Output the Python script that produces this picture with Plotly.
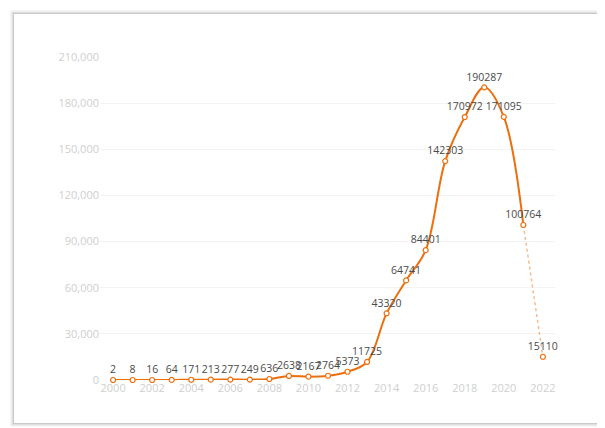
import plotly.graph_objects as go

years = list(range(2000, 2023))
values = [2, 8, 16, 64, 171, 213, 277, 249, 636, 2638, 2167, 2764, 5373, 11725,
          43320, 64741, 84401, 142303, 170972, 190287, 171095, 100764, 15110]
y_ticks = [0, 30000, 60000, 90000, 120000, 150000, 180000, 210000]
y_tick_labels = ["0", "30,000", "60,000", "90,000", "120,000", "150,000", "180,000", "210,000"]
x_ticks = list(range(2000, 2023, 2))

ORANGE = "#EC6F0E"
LIGHT = "rgba(246,178,130,0.9)"
FONT = "Open Sans"

# figure sits at (8,8) in the page because of the default body margin
W, H = 597, 420
L, T = 92, 49
PW, PH = 455, 323


def px(fx):
    return (fx - L) / PW


def py(fy):
    return (T + PH - fy) / PH


fig = go.Figure()

fig.add_trace(go.Scatter(
    x=years[-2:], y=values[-2:], mode="lines",
    line=dict(color=LIGHT, width=1.5, dash="dot", shape="spline", smoothing=1),
    hoverinfo="skip", showlegend=False,
))

fig.add_trace(go.Scatter(
    x=years[:-1], y=values[:-1], mode="lines",
    line=dict(color=ORANGE, width=2, shape="spline", smoothing=1),
    showlegend=False,
))

fig.add_trace(go.Scatter(
    x=years, y=values, mode="markers+text",
    marker=dict(size=5, color="white", line=dict(color=ORANGE, width=1.2)),
    text=[str(v) for v in values], textposition="top center",
    textfont=dict(family=FONT, size=10.5, color="#4a4a4a"),
    showlegend=False, cliponaxis=False,
))

# card (page coords 14..597 x 14..423) -> figure coords minus 8
cx0, cx1, cy0, cy1 = 6, 589, 6, 415
shapes = []
for d, a in [(4, 0.03), (3, 0.04), (2, 0.06), (1, 0.09)]:
    shapes.append(dict(type="rect", xref="paper", yref="paper", layer="below",
                       x0=px(cx0 - d), x1=px(cx1 + d), y0=py(cy1 + d), y1=py(cy0 - d),
                       line=dict(width=0), fillcolor=f"rgba(0,0,0,{a})"))
shapes.append(dict(type="rect", xref="paper", yref="paper", layer="below",
                   x0=px(cx0), x1=px(cx1), y0=py(cy1), y1=py(cy0),
                   line=dict(width=0), fillcolor="white"))

fig.update_layout(
    width=W, height=H,
    margin=dict(l=L, r=W - L - PW, t=T, b=H - T - PH),
    paper_bgcolor="white", plot_bgcolor="rgba(0,0,0,0)",
    shapes=shapes,
    font=dict(family=FONT),
    xaxis=dict(range=[1999.33, 2022.62], tickvals=x_ticks, ticktext=[str(t) for t in x_ticks],
               showgrid=False, zeroline=False, showline=False,
               tickfont=dict(size=11, color="#cfcfcf", family=FONT), ticks=""),
    yaxis=dict(range=[0, 210000], tickvals=y_ticks, ticktext=y_tick_labels,
               showgrid=True, gridcolor="#f3f3f3", gridwidth=1, zeroline=False, showline=False,
               tickfont=dict(size=11, color="#cfcfcf", family=FONT), ticks=""),
)

fig.write_html("out.html")
